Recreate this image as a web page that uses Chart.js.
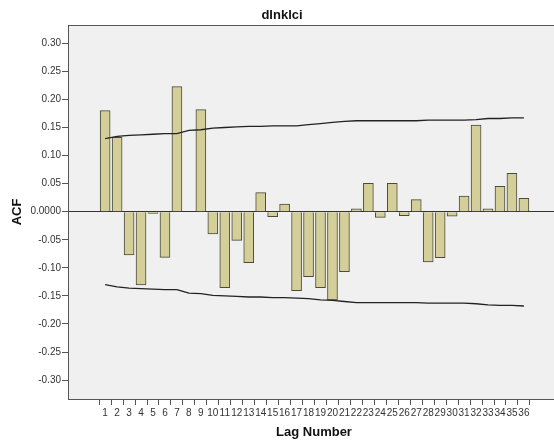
<!DOCTYPE html>
<html>
<head>
<meta charset="utf-8">
<script src="https://cdn.jsdelivr.net/npm/chart.js@4"></script>
<style>
html,body{margin:0;padding:0;background:#fff;}
canvas{display:block;}
</style>
</head>
<body>
<canvas id="c" width="554" height="443"></canvas>
<script>
const lags = [1,2,3,4,5,6,7,8,9,10,11,12,13,14,15,16,17,18,19,20,21,22,23,24,25,26,27,28,29,30,31,32,33,34,35,36];
const acf = [0.180,0.1325,-0.077,-0.1306,-0.003,-0.0813,0.2227,0,0.1817,-0.0397,-0.1354,-0.051,-0.0908,0.0339,-0.009,0.0137,
  -0.1407,-0.1158,-0.1354,-0.1573,-0.1069,0.0053,0.0506,-0.010,0.0506,-0.007,0.0214,-0.0896,-0.082,-0.008,0.028,0.1545,0.0053,0.0452,0.0684,0.0239];
const upperLimit = [0.130,0.134,0.136,0.137,0.138,0.139,0.139,0.145,0.146,0.149,0.150,0.151,0.152,0.152,0.153,0.153,0.153,0.155,0.157,0.159,
  0.161,0.162,0.162,0.162,0.162,0.162,0.162,0.163,0.163,0.163,0.163,0.164,0.166,0.166,0.167,0.167];
const lowerLimit = [-0.130,-0.134,-0.136,-0.137,-0.138,-0.139,-0.139,-0.145,-0.146,-0.149,-0.150,-0.151,-0.152,-0.152,-0.153,-0.153,-0.154,-0.155,-0.157,-0.158,
  -0.160,-0.162,-0.162,-0.162,-0.162,-0.162,-0.162,-0.163,-0.163,-0.163,-0.163,-0.164,-0.166,-0.167,-0.167,-0.168];
const titleText = 'dlnklci';
const xTitle = 'Lag Number';
const yTitle = 'ACF';

const toXY = arr => lags.map((l, i) => ({x: l, y: arr[i]}));

const decor = {
  id: 'decor',
  beforeDraw(chart) {
    const {ctx, chartArea: a} = chart;
    ctx.save();
    ctx.fillStyle = '#f0f0f0';
    ctx.fillRect(a.left, a.top, a.right - a.left, a.bottom - a.top);
    ctx.restore();
  },
  afterDraw(chart) {
    const {ctx, chartArea: a} = chart;
    ctx.save();
    ctx.strokeStyle = '#555';
    ctx.lineWidth = 1;
    ctx.strokeRect(a.left + 0.5, a.top + 0.5, a.right - a.left, a.bottom - a.top);
    ctx.fillStyle = '#111';
    ctx.font = 'bold 13px Arial, "Liberation Sans", sans-serif';
    ctx.textAlign = 'center';
    ctx.textBaseline = 'middle';
    ctx.fillText(titleText, 282, 15);
    ctx.fillText(xTitle, 314, 432);
    ctx.translate(17, 212);
    ctx.rotate(-Math.PI / 2);
    ctx.fillText(yTitle, 0, 0);
    ctx.restore();
  }
};

new Chart(document.getElementById('c'), {
  type: 'bar',
  data: {
    datasets: [
      {type: 'line', data: toXY(upperLimit), borderColor: '#222', borderWidth: 1.3, pointRadius: 0, tension: 0, order: 0},
      {type: 'line', data: toXY(lowerLimit), borderColor: '#222', borderWidth: 1.3, pointRadius: 0, tension: 0, order: 0},
      {type: 'bar', data: toXY(acf), backgroundColor: '#d4cf99', borderColor: '#4a4a40', borderWidth: 1, barThickness: 10, order: 1}
    ]
  },
  options: {
    responsive: false,
    animation: false,
    layout: {padding: {top: 25, right: 0, left: 0, bottom: 0}},
    plugins: {legend: {display: false}, tooltip: {enabled: false}, title: {display: false}},
    scales: {
      x: {
        type: 'linear',
        min: -1.54,
        max: 37.95,
        afterFit(s) { s.height = 44; },
        afterBuildTicks(s) { s.ticks = s.ticks.filter(t => t.value >= 1 && t.value <= 36); },
        border: {display: true, color: '#555', width: 1},
        grid: {drawOnChartArea: false, drawTicks: true, tickLength: 6, tickColor: '#555'},
        ticks: {
          stepSize: 1, includeBounds: false, autoSkip: false, maxRotation: 0, minRotation: 0,
          padding: 2, color: '#333', font: {family: 'Arial, "Liberation Sans", sans-serif', size: 10},
          callback: v => String(v)
        }
      },
      y: {
        type: 'linear',
        min: -0.3337,
        max: 0.3326,
        afterFit(s) { s.width = 68; },
        border: {display: true, color: '#555', width: 1},
        grid: {
          drawOnChartArea: true, drawTicks: true, tickLength: 6, tickColor: '#555',
          color: c => (c.tick && Math.abs(c.tick.value) < 1e-9) ? '#333' : 'rgba(0,0,0,0)',
          lineWidth: 1
        },
        ticks: {
          stepSize: 0.05, includeBounds: false, padding: 1, color: '#333',
          font: {family: 'Arial, "Liberation Sans", sans-serif', size: 10},
          callback: v => Math.abs(v) < 1e-9 ? '0.0000' : Number(v).toFixed(2)
        }
      }
    }
  },
  plugins: [decor]
});
</script>
</body>
</html>
